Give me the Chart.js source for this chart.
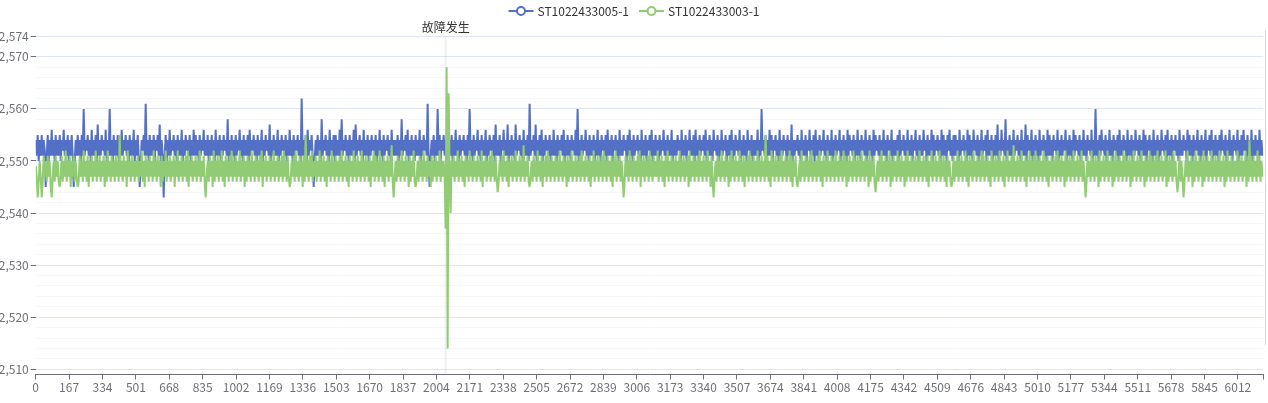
<!DOCTYPE html>
<html>
<head>
<meta charset="utf-8">
<script src="https://cdn.jsdelivr.net/npm/chart.js@4.4.1/dist/chart.umd.min.js"></script>
<style>
  html, body { margin: 0; padding: 0; background: #fff; }
  #wrap { position: relative; width: 1268px; height: 403px; }
  #edge { position: absolute; left: 1265px; top: 30px; width: 1px; height: 315px; background: #d6d6d6; }
</style>
</head>
<body>
<div id="wrap">
  <canvas id="chart" width="1268" height="403"></canvas>
  <div id="edge"></div>
</div>
<script>
// 采样间隔（原始序号每5个取一个点）
var STEP = 5;
var X_MAX = 6139;
var FAULT_INDEX = 2050;
var FAULT_TEXT = '故障发生';

var seriesNames = ['ST1022433005-1', 'ST1022433003-1'];
var seriesColors = ['#5470c6', '#91cc75'];

var xTickLabels = [0,167,334,501,668,835,1002,1169,1336,1503,1670,1837,2004,2171,2338,2505,2672,2839,3006,
  3173,3340,3507,3674,3841,4008,4175,4342,4509,4676,4843,5010,5177,5344,5511,5678,5845,6012];
var yTickLabels = [2510,2520,2530,2540,2550,2560,2570,2574];
var Y_MIN = 2509;
var Y_MAX = 2574;

// ST1022433005-1
var blue = [
  2554,2551,2555,2550,2554,2551,2555,2551,2554,2552,2545,2551,2555,2550,2554,2551,2556,2551,2554,2550,
  2555,2551,2554,2551,2555,2550,2554,2552,2556,2551,2554,2551,2555,2550,2554,2551,2555,2551,2545,2550,
  2554,2551,2555,2551,2554,2550,2555,2551,2560,2551,2554,2552,2555,2551,2554,2550,2556,2551,2554,2551,
  2555,2550,2557,2551,2554,2551,2555,2552,2554,2551,2556,2550,2554,2551,2560,2551,2554,2550,2555,2551,
  2554,2551,2555,2550,2554,2551,2556,2551,2554,2552,2555,2551,2554,2550,2555,2551,2554,2551,2556,2550,
  2554,2551,2555,2551,2545,2550,2554,2552,2555,2551,2561,2551,2554,2550,2555,2551,2554,2551,2555,2550,
  2554,2552,2555,2551,2557,2550,2554,2551,2543,2551,2555,2550,2554,2551,2556,2551,2554,2552,2555,2551,
  2554,2550,2555,2551,2554,2551,2556,2550,2554,2551,2555,2552,2554,2551,2555,2550,2554,2551,2556,2551,
  2555,2551,2554,2550,2555,2551,2554,2552,2556,2551,2554,2551,2555,2550,2554,2551,2555,2551,2554,2550,
  2556,2551,2554,2551,2555,2550,2554,2551,2555,2552,2554,2551,2558,2550,2554,2551,2555,2551,2554,2550,
  2555,2551,2554,2552,2556,2551,2554,2550,2555,2551,2554,2551,2555,2550,2556,2551,2554,2552,2555,2551,
  2554,2550,2555,2551,2554,2551,2556,2550,2554,2551,2555,2552,2554,2551,2557,2550,2554,2551,2555,2551,
  2554,2551,2556,2550,2554,2551,2555,2552,2554,2551,2555,2550,2554,2551,2556,2551,2554,2550,2555,2551,
  2554,2552,2555,2551,2554,2550,2562,2551,2554,2551,2555,2550,2556,2551,2554,2552,2555,2551,2545,2550,
  2554,2551,2555,2551,2554,2550,2558,2551,2554,2552,2555,2551,2554,2550,2556,2551,2554,2551,2555,2550,
  2555,2551,2554,2551,2556,2550,2558,2551,2554,2552,2555,2551,2554,2550,2555,2551,2554,2551,2556,2550,
  2557,2551,2554,2552,2555,2551,2554,2550,2556,2551,2554,2551,2555,2550,2554,2551,2555,2552,2554,2551,
  2555,2550,2554,2551,2556,2551,2554,2550,2555,2551,2554,2552,2555,2551,2554,2550,2556,2551,2554,2551,
  2554,2551,2555,2550,2554,2551,2558,2551,2554,2552,2555,2551,2556,2550,2554,2551,2555,2551,2554,2550,
  2555,2551,2554,2551,2556,2550,2554,2551,2555,2552,2554,2551,2561,2550,2545,2551,2554,2551,2555,2550,
  2554,2551,2560,2551,2555,2550,2554,2552,2555,2551,2554,2550,2556,2551,2554,2551,2555,2550,2554,2551,
  2556,2551,2554,2550,2555,2551,2554,2552,2555,2551,2554,2550,2555,2551,2560,2551,2554,2550,2555,2551,
  2554,2552,2556,2551,2554,2550,2555,2551,2554,2551,2556,2550,2554,2551,2555,2552,2554,2551,2555,2550,
  2557,2551,2554,2551,2555,2550,2554,2552,2556,2551,2554,2551,2557,2550,2554,2551,2555,2551,2554,2550,
  2557,2551,2554,2552,2555,2551,2554,2550,2556,2551,2554,2551,2555,2550,2561,2551,2554,2552,2555,2551,
  2557,2550,2554,2551,2555,2551,2556,2550,2554,2551,2555,2552,2554,2551,2555,2550,2554,2551,2556,2551,
  2554,2550,2555,2551,2554,2552,2555,2551,2556,2550,2554,2551,2555,2551,2554,2550,2555,2552,2554,2551,
  2556,2551,2560,2550,2554,2551,2555,2551,2554,2552,2556,2551,2554,2550,2555,2551,2554,2551,2555,2550,
  2554,2551,2556,2551,2554,2550,2555,2552,2554,2551,2555,2550,2556,2551,2554,2551,2555,2550,2554,2552,
  2555,2551,2554,2550,2556,2551,2554,2551,2555,2552,2554,2550,2555,2551,2556,2551,2554,2550,2555,2551,
  2554,2552,2555,2551,2554,2550,2556,2551,2554,2551,2555,2550,2554,2552,2555,2551,2556,2550,2554,2551,
  2555,2551,2554,2550,2555,2551,2554,2552,2556,2551,2554,2550,2555,2551,2554,2551,2556,2550,2554,2551,
  2554,2551,2555,2552,2554,2550,2556,2551,2554,2551,2555,2550,2554,2552,2556,2551,2554,2551,2555,2550,
  2556,2551,2554,2550,2555,2551,2554,2552,2555,2551,2556,2550,2554,2551,2555,2551,2554,2550,2556,2552,
  2554,2551,2555,2550,2554,2551,2556,2551,2554,2552,2555,2550,2554,2551,2555,2551,2556,2550,2554,2551,
  2555,2552,2554,2551,2556,2550,2554,2551,2555,2551,2554,2550,2556,2552,2554,2551,2555,2550,2554,2551,
  2554,2551,2556,2550,2554,2551,2560,2552,2554,2551,2555,2550,2554,2551,2556,2551,2555,2550,2554,2552,
  2555,2551,2554,2550,2556,2551,2554,2551,2555,2552,2554,2550,2555,2551,2554,2551,2557,2550,2554,2551,
  2554,2552,2555,2551,2554,2550,2556,2551,2554,2551,2555,2550,2554,2552,2556,2551,2554,2551,2555,2550,
  2556,2551,2554,2550,2555,2551,2554,2552,2556,2551,2554,2550,2555,2551,2554,2551,2556,2550,2554,2551,
  2555,2551,2554,2552,2556,2550,2554,2551,2555,2551,2554,2550,2556,2551,2555,2552,2554,2551,2555,2550,
  2554,2551,2556,2551,2554,2550,2555,2552,2554,2551,2556,2550,2554,2551,2555,2551,2554,2550,2556,2551,
  2555,2552,2554,2551,2555,2550,2554,2551,2556,2551,2554,2550,2555,2552,2554,2551,2556,2550,2554,2551,
  2554,2551,2555,2550,2556,2551,2554,2552,2555,2551,2554,2550,2556,2551,2554,2551,2555,2550,2554,2552,
  2556,2551,2554,2550,2555,2551,2554,2551,2556,2552,2554,2550,2555,2551,2554,2551,2556,2550,2555,2551,
  2554,2552,2555,2551,2554,2550,2556,2551,2555,2551,2554,2550,2555,2552,2556,2551,2554,2550,2555,2551,
  2555,2551,2554,2550,2556,2551,2554,2552,2555,2551,2554,2550,2556,2551,2555,2551,2554,2550,2556,2552,
  2554,2551,2555,2550,2554,2551,2556,2551,2554,2552,2555,2550,2556,2551,2554,2551,2555,2550,2554,2551,
  2555,2551,2557,2550,2554,2551,2556,2552,2554,2551,2558,2550,2554,2551,2555,2551,2554,2550,2556,2551,
  2554,2552,2555,2551,2554,2550,2556,2551,2554,2551,2557,2550,2555,2552,2554,2551,2556,2550,2554,2551,
  2555,2551,2554,2550,2556,2551,2554,2552,2555,2551,2554,2550,2556,2551,2555,2551,2554,2550,2555,2552,
  2554,2551,2556,2550,2554,2551,2555,2551,2554,2552,2556,2550,2554,2551,2555,2551,2554,2550,2556,2551,
  2555,2552,2554,2551,2555,2550,2554,2551,2556,2551,2554,2550,2555,2552,2554,2551,2556,2550,2554,2551,
  2560,2551,2554,2550,2555,2551,2556,2552,2554,2551,2555,2550,2554,2551,2556,2551,2554,2550,2555,2552,
  2554,2551,2555,2550,2556,2551,2554,2551,2555,2552,2554,2550,2556,2551,2554,2551,2555,2550,2554,2551,
  2556,2552,2554,2551,2555,2550,2554,2551,2556,2551,2555,2550,2554,2552,2555,2551,2554,2550,2556,2551,
  2554,2551,2555,2550,2554,2551,2556,2552,2554,2551,2555,2550,2556,2551,2554,2551,2555,2550,2554,2552,
  2555,2551,2554,2550,2556,2551,2554,2551,2555,2552,2554,2550,2556,2551,2555,2551,2554,2550,2555,2551,
  2554,2552,2556,2551,2554,2550,2555,2551,2554,2551,2556,2550,2554,2552,2555,2551,2556,2550,2554,2551,
  2555,2551,2554,2550,2555,2551,2556,2552,2554,2551,2555,2550,2554,2551,2556,2551,2554,2550,2555,2552,
  2554,2551,2556,2550,2554,2551,2555,2551,2556,2552,2554,2550,2555,2551,2554,2551,2556,2550,2554,2551,
  2555,2551,2554,2550,2556,2551,2554,2551
];

// ST1022433003-1
var green = [
  2549,2547,2543,2546,2550,2547,2543,2546,2551,2547,2550,2546,2551,2547,2550,2545,2543,2547,2550,2546,
  2551,2547,2550,2546,2545,2547,2551,2546,2550,2547,2552,2546,2550,2547,2551,2545,2550,2547,2551,2546,
  2550,2547,2545,2546,2551,2547,2550,2546,2552,2547,2550,2546,2551,2545,2550,2547,2551,2546,2550,2547,
  2552,2546,2550,2547,2551,2546,2550,2547,2551,2545,2550,2546,2552,2547,2550,2546,2551,2547,2550,2546,
  2551,2547,2550,2546,2555,2547,2550,2546,2551,2547,2550,2545,2552,2547,2550,2546,2551,2547,2550,2546,
  2550,2547,2551,2546,2550,2547,2552,2546,2550,2545,2551,2547,2550,2546,2551,2547,2550,2546,2552,2547,
  2550,2546,2551,2547,2550,2545,2551,2546,2550,2547,2552,2546,2550,2547,2551,2546,2550,2547,2551,2545,
  2550,2547,2552,2546,2550,2547,2551,2546,2550,2547,2551,2546,2552,2545,2550,2547,2551,2546,2550,2547,
  2551,2546,2550,2547,2552,2546,2550,2547,2551,2546,2543,2547,2550,2546,2551,2547,2550,2545,2552,2546,
  2550,2547,2551,2546,2550,2547,2552,2546,2550,2545,2551,2547,2550,2546,2551,2547,2552,2546,2550,2547,
  2551,2546,2550,2547,2552,2546,2550,2547,2551,2545,2550,2546,2551,2547,2550,2546,2552,2547,2550,2546,
  2551,2547,2550,2546,2551,2547,2552,2545,2550,2547,2551,2546,2550,2547,2551,2546,2550,2547,2552,2546,
  2550,2547,2551,2546,2550,2547,2551,2546,2552,2547,2550,2546,2551,2547,2545,2546,2550,2547,2551,2546,
  2552,2547,2550,2546,2551,2547,2550,2545,2551,2546,2555,2547,2550,2546,2551,2547,2552,2546,2550,2547,
  2551,2546,2550,2547,2552,2546,2550,2547,2551,2546,2550,2545,2551,2547,2550,2546,2552,2547,2550,2546,
  2551,2547,2550,2546,2551,2547,2552,2546,2550,2547,2551,2546,2550,2545,2551,2547,2550,2546,2552,2547,
  2550,2546,2551,2547,2550,2546,2552,2547,2550,2546,2551,2547,2550,2546,2551,2545,2550,2547,2552,2546,
  2551,2547,2550,2546,2552,2547,2550,2546,2551,2545,2550,2547,2551,2546,2550,2547,2553,2546,2543,2547,
  2550,2546,2551,2547,2550,2546,2552,2547,2550,2546,2551,2547,2550,2545,2551,2546,2550,2547,2552,2546,
  2545,2547,2550,2546,2551,2547,2550,2546,2552,2547,2550,2546,2551,2547,2550,2545,2551,2546,2550,2547,
  2551,2546,2550,2547,2552,2546,2550,2547,2550,2547,2537,2568,2514,2563,2548,2540,2550,2547,2551,2546,
  2550,2547,2552,2546,2550,2547,2551,2546,2550,2545,2551,2547,2550,2546,2552,2547,2550,2546,2551,2547,
  2550,2546,2551,2547,2550,2546,2552,2545,2550,2547,2551,2546,2550,2547,2551,2546,2552,2547,2550,2546,
  2551,2547,2544,2546,2550,2547,2551,2546,2552,2547,2550,2546,2551,2545,2550,2547,2551,2546,2550,2547,
  2552,2546,2550,2547,2551,2546,2550,2547,2553,2546,2550,2547,2551,2546,2545,2547,2550,2546,2551,2547,
  2550,2546,2552,2547,2550,2546,2551,2545,2550,2547,2551,2546,2552,2547,2550,2546,2551,2547,2550,2546,
  2551,2547,2550,2546,2552,2547,2550,2546,2551,2547,2550,2545,2551,2546,2550,2547,2552,2546,2550,2547,
  2551,2546,2550,2547,2551,2546,2552,2547,2550,2546,2551,2547,2550,2546,2551,2545,2550,2547,2552,2546,
  2550,2547,2551,2546,2550,2547,2551,2546,2552,2547,2550,2546,2551,2547,2550,2546,2551,2545,2550,2547,
  2552,2546,2550,2547,2551,2546,2550,2547,2543,2546,2551,2547,2550,2546,2552,2547,2550,2546,2551,2547,
  2550,2546,2551,2547,2552,2545,2550,2547,2551,2546,2550,2547,2551,2546,2552,2547,2550,2546,2551,2547,
  2550,2547,2552,2546,2550,2547,2551,2546,2550,2545,2551,2547,2552,2546,2550,2547,2551,2546,2550,2547,
  2551,2546,2550,2547,2552,2546,2550,2547,2551,2546,2550,2547,2551,2545,2552,2546,2550,2547,2551,2546,
  2550,2547,2551,2546,2552,2547,2550,2546,2551,2547,2550,2546,2552,2547,2550,2545,2551,2546,2543,2547,
  2550,2546,2551,2547,2550,2546,2552,2547,2550,2546,2551,2547,2550,2545,2551,2546,2552,2547,2550,2546,
  2551,2547,2550,2546,2552,2547,2550,2546,2551,2545,2550,2547,2551,2546,2552,2547,2550,2546,2551,2547,
  2550,2546,2552,2547,2550,2546,2551,2547,2550,2546,2555,2547,2551,2546,2550,2545,2552,2547,2550,2546,
  2551,2547,2550,2546,2551,2547,2552,2546,2550,2547,2551,2546,2550,2547,2552,2546,2551,2545,2550,2547,
  2551,2546,2545,2547,2550,2546,2552,2547,2550,2546,2551,2547,2550,2546,2551,2547,2552,2546,2550,2547,
  2550,2546,2551,2547,2552,2546,2550,2545,2551,2547,2550,2546,2552,2547,2550,2546,2551,2547,2550,2546,
  2552,2547,2550,2546,2551,2547,2550,2546,2552,2547,2551,2545,2550,2546,2551,2547,2550,2546,2552,2547,
  2550,2546,2551,2547,2550,2546,2552,2547,2550,2546,2551,2547,2550,2545,2552,2546,2550,2547,2551,2546,
  2544,2547,2550,2546,2551,2547,2552,2546,2550,2547,2551,2546,2550,2547,2552,2545,2550,2546,2551,2547,
  2550,2546,2552,2547,2550,2546,2551,2547,2550,2545,2551,2546,2552,2547,2550,2546,2551,2547,2550,2546,
  2551,2547,2550,2546,2552,2547,2550,2546,2551,2547,2550,2546,2551,2545,2550,2547,2552,2546,2550,2547,
  2551,2546,2550,2547,2552,2546,2550,2547,2551,2546,2550,2545,2551,2547,2550,2546,2545,2547,2551,2546,
  2550,2547,2552,2546,2550,2547,2551,2546,2550,2547,2552,2546,2550,2545,2551,2547,2550,2546,2552,2547,
  2550,2546,2551,2547,2550,2546,2552,2547,2551,2546,2550,2547,2551,2546,2550,2545,2552,2547,2550,2546,
  2551,2547,2550,2546,2552,2547,2550,2546,2551,2545,2550,2547,2552,2546,2550,2547,2551,2546,2553,2547,
  2550,2546,2551,2547,2550,2546,2552,2547,2550,2546,2551,2545,2550,2547,2552,2546,2550,2547,2551,2546,
  2552,2547,2550,2546,2551,2547,2550,2546,2552,2547,2550,2546,2551,2545,2550,2547,2551,2546,2550,2547,
  2551,2546,2552,2547,2550,2546,2551,2547,2550,2545,2552,2546,2550,2547,2551,2546,2550,2547,2552,2546,
  2550,2547,2551,2546,2550,2547,2552,2546,2550,2547,2543,2546,2551,2547,2550,2546,2552,2547,2550,2546,
  2551,2547,2550,2545,2552,2546,2550,2547,2551,2546,2550,2547,2552,2546,2550,2547,2551,2545,2550,2546,
  2552,2547,2550,2546,2551,2547,2550,2546,2552,2547,2551,2546,2550,2547,2551,2545,2550,2546,2552,2547,
  2550,2546,2551,2547,2550,2546,2552,2547,2550,2545,2551,2546,2550,2547,2552,2546,2551,2547,2550,2546,
  2551,2547,2552,2546,2550,2547,2551,2546,2550,2547,2552,2545,2550,2546,2551,2547,2550,2546,2552,2547,
  2550,2546,2544,2547,2551,2546,2550,2547,2543,2546,2550,2547,2552,2546,2550,2547,2551,2545,2550,2546,
  2552,2547,2550,2546,2551,2547,2550,2545,2552,2546,2550,2547,2551,2546,2550,2547,2552,2546,2550,2547,
  2551,2546,2550,2547,2552,2546,2550,2547,2551,2545,2550,2546,2552,2547,2550,2546,2551,2547,2550,2546,
  2550,2547,2552,2546,2550,2547,2551,2546,2550,2547,2552,2545,2550,2546,2554,2547,2550,2546,2551,2547,
  2550,2546,2552,2547,2551,2546,2550,2547
];

var FONT = '"Noto Sans CJK SC", "Noto Sans", sans-serif';
Chart.defaults.font.family = FONT;
Chart.defaults.font.size = 12;
Chart.defaults.color = '#6E7079';

function toPoints(arr) {
  return arr.map(function (v, i) { return { x: i * STEP, y: v }; });
}

// 图例：线 + 空心圆
var topLegend = {
  id: 'topLegend',
  afterDraw: function (chart) {
    var ctx = chart.ctx;
    ctx.save();
    ctx.font = '12px ' + FONT;
    var items = chart.data.datasets.map(function (d) {
      return { label: d.label, color: d.borderColor, w: 25 + 4 + ctx.measureText(d.label).width };
    });
    var gap = 10;
    var total = items.reduce(function (s, it) { return s + it.w; }, 0) + gap * (items.length - 1);
    var x = chart.width / 2 - total / 2;
    var y = 11;
    items.forEach(function (it) {
      ctx.strokeStyle = it.color;
      ctx.lineWidth = 2;
      ctx.beginPath(); ctx.moveTo(x, y); ctx.lineTo(x + 25, y); ctx.stroke();
      ctx.beginPath(); ctx.arc(x + 12.5, y, 4, 0, Math.PI * 2);
      ctx.fillStyle = '#fff'; ctx.fill(); ctx.stroke();
      ctx.fillStyle = '#333';
      ctx.textAlign = 'left';
      ctx.textBaseline = 'middle';
      ctx.fillText(it.label, x + 29, y);
      x += it.w + gap;
    });
    ctx.restore();
  }
};

// 故障标记线
var faultLine = {
  id: 'faultLine',
  beforeDatasetsDraw: function (chart) {
    var ctx = chart.ctx, area = chart.chartArea;
    var px = chart.scales.x.getPixelForValue(FAULT_INDEX);
    ctx.save();
    ctx.strokeStyle = 'rgba(0,0,0,0.06)';
    ctx.lineWidth = 2;
    ctx.beginPath(); ctx.moveTo(px, area.top); ctx.lineTo(px, area.bottom); ctx.stroke();
    ctx.restore();
  },
  afterDraw: function (chart) {
    var ctx = chart.ctx, area = chart.chartArea;
    var px = chart.scales.x.getPixelForValue(FAULT_INDEX);
    ctx.save();
    ctx.font = '12px ' + FONT;
    ctx.fillStyle = '#333';
    ctx.textAlign = 'center';
    ctx.textBaseline = 'middle';
    ctx.fillText(FAULT_TEXT, px, area.top - 9);
    ctx.restore();
  }
};

var yMajor = new Set(yTickLabels);

new Chart(document.getElementById('chart'), {
  type: 'line',
  data: {
    datasets: [
      { label: seriesNames[0], data: toPoints(blue), borderColor: seriesColors[0], order: 1 },
      { label: seriesNames[1], data: toPoints(green), borderColor: seriesColors[1], order: 0 }
    ]
  },
  options: {
    responsive: false,
    animation: false,
    layout: { padding: { top: 36, right: 4.7, left: 0, bottom: 0 } },
    elements: {
      line: { borderWidth: 2, tension: 0, borderJoinStyle: 'bevel', fill: false },
      point: { radius: 0, hoverRadius: 0 }
    },
    plugins: { legend: { display: false }, tooltip: { enabled: false } },
    scales: {
      x: {
        type: 'linear',
        min: 0,
        max: X_MAX,
        afterBuildTicks: function (scale) {
          scale.ticks = xTickLabels.concat([X_MAX]).map(function (v) { return { value: v }; });
        },
        afterFit: function (scale) { scale.height = 28.5; },
        ticks: {
          autoSkip: false,
          maxRotation: 0,
          padding: 1,
          color: '#6E7079',
          callback: function (v) { return v === X_MAX ? '' : String(v); }
        },
        grid: { drawOnChartArea: false, drawTicks: true, tickLength: 5, tickColor: '#6E7079' },
        border: { display: true, color: '#6E7079', width: 1 }
      },
      y: {
        min: Y_MIN,
        max: Y_MAX,
        afterBuildTicks: function (scale) {
          var t = [];
          for (var v = 2510; v <= 2570; v += 2) t.push(v);
          t.push(Y_MAX);
          scale.ticks = t.map(function (v) { return { value: v }; });
        },
        afterFit: function (scale) { scale.width = 35.7; },
        ticks: {
          autoSkip: false,
          padding: 2,
          color: '#6E7079',
          callback: function (v) { return yMajor.has(v) ? v.toLocaleString('en-US') : ''; }
        },
        grid: {
          drawTicks: true,
          tickLength: 5,
          color: function (c) { return c.tick && yMajor.has(c.tick.value) ? '#E0E6F1' : '#F4F6FB'; },
          tickColor: function (c) { return c.tick && yMajor.has(c.tick.value) ? '#6E7079' : 'rgba(0,0,0,0)'; }
        },
        border: { display: false }
      }
    }
  },
  plugins: [faultLine, topLegend]
});
</script>
</body>
</html>
